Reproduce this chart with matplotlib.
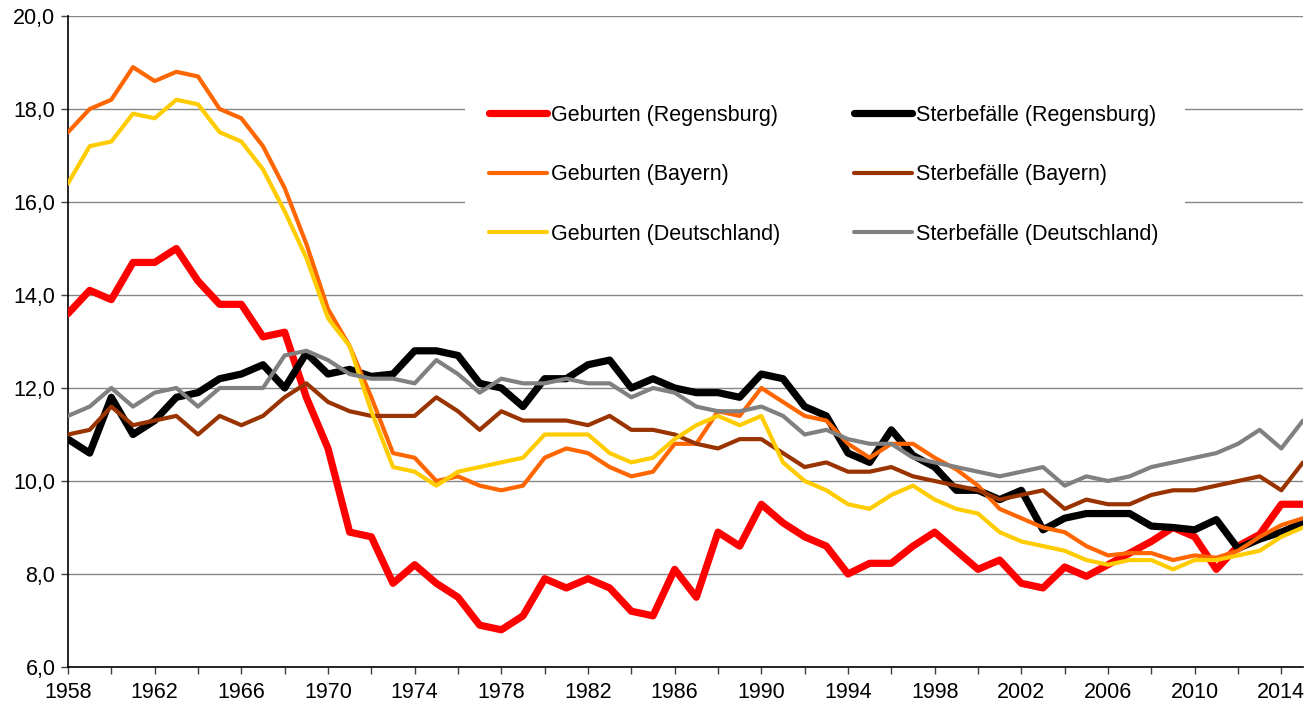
import matplotlib
matplotlib.use("Agg")
import matplotlib.pyplot as plt
from matplotlib.patches import Rectangle
from matplotlib.ticker import FuncFormatter

# Geburten und Sterbefälle je 1000 Einwohner, 1958-2015
years = list(range(1958, 2016))

geburten_regensburg = [
    13.6, 14.1, 13.9, 14.7, 14.7, 15.0, 14.3, 13.8, 13.8, 13.1, 13.2, 11.8,
    10.7, 8.9, 8.8, 7.8, 8.2, 7.8, 7.5, 6.9, 6.8, 7.1,
    7.9, 7.7, 7.9, 7.7, 7.2, 7.1, 8.1, 7.5, 8.9, 8.6,
    9.5, 9.1, 8.8, 8.6, 8.0, 8.23, 8.23, 8.6, 8.9, 8.5,
    8.1, 8.3, 7.8, 7.7, 8.15, 7.95, 8.2, 8.45, 8.7, 9.0,
    8.8, 8.1, 8.6, 8.85, 9.5, 9.5]
sterbefaelle_regensburg = [
    10.9, 10.6, 11.8, 11.0, 11.3, 11.8, 11.9, 12.2, 12.3, 12.5, 12.0, 12.75,
    12.3, 12.4, 12.25, 12.3, 12.8, 12.8, 12.7, 12.1, 12.0, 11.6,
    12.2, 12.2, 12.5, 12.6, 12.0, 12.2, 12.0, 11.9, 11.9, 11.8,
    12.3, 12.2, 11.6, 11.4, 10.6, 10.4, 11.1, 10.55, 10.3, 9.8,
    9.8, 9.6, 9.8, 8.95, 9.2, 9.3, 9.3, 9.3, 9.03, 9.0,
    8.95, 9.17, 8.55, 8.75, 8.9, 9.1]
geburten_bayern = [
    17.5, 18.0, 18.2, 18.9, 18.6, 18.8, 18.7, 18.0, 17.8, 17.2, 16.3, 15.1,
    13.7, 12.9, 11.8, 10.6, 10.5, 10.0, 10.1, 9.9, 9.8, 9.9,
    10.5, 10.7, 10.6, 10.3, 10.1, 10.2, 10.8, 10.8, 11.5, 11.4,
    12.0, 11.7, 11.4, 11.3, 10.8, 10.5, 10.8, 10.8, 10.5, 10.25,
    9.9, 9.4, 9.2, 9.0, 8.9, 8.6, 8.4, 8.45, 8.45, 8.3,
    8.4, 8.35, 8.5, 8.8, 9.05, 9.2]
sterbefaelle_bayern = [
    11.0, 11.1, 11.6, 11.2, 11.3, 11.4, 11.0, 11.4, 11.2, 11.4, 11.8, 12.1,
    11.7, 11.5, 11.4, 11.4, 11.4, 11.8, 11.5, 11.1, 11.5, 11.3,
    11.3, 11.3, 11.2, 11.4, 11.1, 11.1, 11.0, 10.8, 10.7, 10.9,
    10.9, 10.6, 10.3, 10.4, 10.2, 10.2, 10.3, 10.1, 10.0, 9.9,
    9.8, 9.6, 9.7, 9.8, 9.4, 9.6, 9.5, 9.5, 9.7, 9.8,
    9.8, 9.9, 10.0, 10.1, 9.8, 10.4]
geburten_deutschland = [
    16.4, 17.2, 17.3, 17.9, 17.8, 18.2, 18.1, 17.5, 17.3, 16.7, 15.8, 14.8,
    13.5, 12.9, 11.5, 10.3, 10.2, 9.9, 10.2, 10.3, 10.4, 10.5,
    11.0, 11.0, 11.0, 10.6, 10.4, 10.5, 10.9, 11.2, 11.4, 11.2,
    11.4, 10.4, 10.0, 9.8, 9.5, 9.4, 9.7, 9.9, 9.6, 9.4,
    9.3, 8.9, 8.7, 8.6, 8.5, 8.3, 8.2, 8.3, 8.3, 8.1,
    8.3, 8.3, 8.4, 8.5, 8.8, 9.0]
sterbefaelle_deutschland = [
    11.4, 11.6, 12.0, 11.6, 11.9, 12.0, 11.6, 12.0, 12.0, 12.0, 12.7, 12.8,
    12.6, 12.3, 12.2, 12.2, 12.1, 12.6, 12.3, 11.9, 12.2, 12.1,
    12.1, 12.2, 12.1, 12.1, 11.8, 12.0, 11.9, 11.6, 11.5, 11.5,
    11.6, 11.4, 11.0, 11.1, 10.9, 10.8, 10.8, 10.5, 10.4, 10.3,
    10.2, 10.1, 10.2, 10.3, 9.9, 10.1, 10.0, 10.1, 10.3, 10.4,
    10.5, 10.6, 10.8, 11.1, 10.7, 11.3]

plt.rcParams['font.family'] = ['Liberation Sans', 'DejaVu Sans']

W, H = 1315, 706
fig = plt.figure(figsize=(W / 100, H / 100), dpi=100)
ax = fig.add_axes([68/W, 1 - 667/H, (1303 - 68)/W, (667 - 16)/H])

series = [
    (geburten_regensburg, "Geburten (Regensburg)", "#FF0000", 5.2),
    (sterbefaelle_regensburg, "Sterbefälle (Regensburg)", "#000000", 5.2),
    (geburten_bayern, "Geburten (Bayern)", "#FF6600", 3.0),
    (sterbefaelle_bayern, "Sterbefälle (Bayern)", "#993300", 3.0),
    (geburten_deutschland, "Geburten (Deutschland)", "#FFCC00", 3.0),
    (sterbefaelle_deutschland, "Sterbefälle (Deutschland)", "#808080", 3.0),
]
lines = []
for i, (vals, name, col, lw) in enumerate(series):
    ln, = ax.plot(years, vals, color=col, lw=lw, label=name, zorder=3 + i,
                  solid_joinstyle='round', solid_capstyle='round')
    lines.append(ln)

ax.set_xlim(1958, 2015)
ax.set_ylim(6, 20)
ax.set_yticks(range(6, 21, 2))
ax.yaxis.set_major_formatter(FuncFormatter(lambda v, p: f"{v:.1f}".replace(".", ",")))
ax.set_xticks(range(1958, 2015, 2))
ax.set_xticklabels([str(y) if (y - 1958) % 4 == 0 else "" for y in range(1958, 2015, 2)])

ax.grid(axis='y', color='#868686', lw=1.0, zorder=1)
ax.set_axisbelow(True)
for s in ['top', 'right']:
    ax.spines[s].set_visible(False)
for s in ['left', 'bottom']:
    ax.spines[s].set_color('black')
    ax.spines[s].set_linewidth(1.2)
ax.tick_params(axis='both', direction='out', length=5, width=1, color='#404040',
               labelsize=15.5, labelcolor='black')
ax.tick_params(axis='y', pad=4)
ax.tick_params(axis='x', pad=6)

# white box behind the legend, hides the gridlines there
ax.add_patch(Rectangle((465/W, 1 - 262/H), (1185 - 465)/W, (262 - 82)/H,
                       transform=fig.transFigure, facecolor='white',
                       edgecolor='none', zorder=2, clip_on=False))

# legend: two columns, filled row by row
order = [0, 2, 4, 1, 3, 5]
leg = ax.legend([lines[i] for i in order], [series[i][1] for i in order],
                ncol=2, loc='upper left',
                bbox_to_anchor=(489/W, 1 - 105/H), bbox_transform=fig.transFigure,
                fontsize=15.5, frameon=False, handlelength=2.7, handletextpad=0.2,
                columnspacing=3.4, labelspacing=1.78, borderpad=0, borderaxespad=0)
leg.set_zorder(20)

fig.savefig("out.png", dpi=100)
